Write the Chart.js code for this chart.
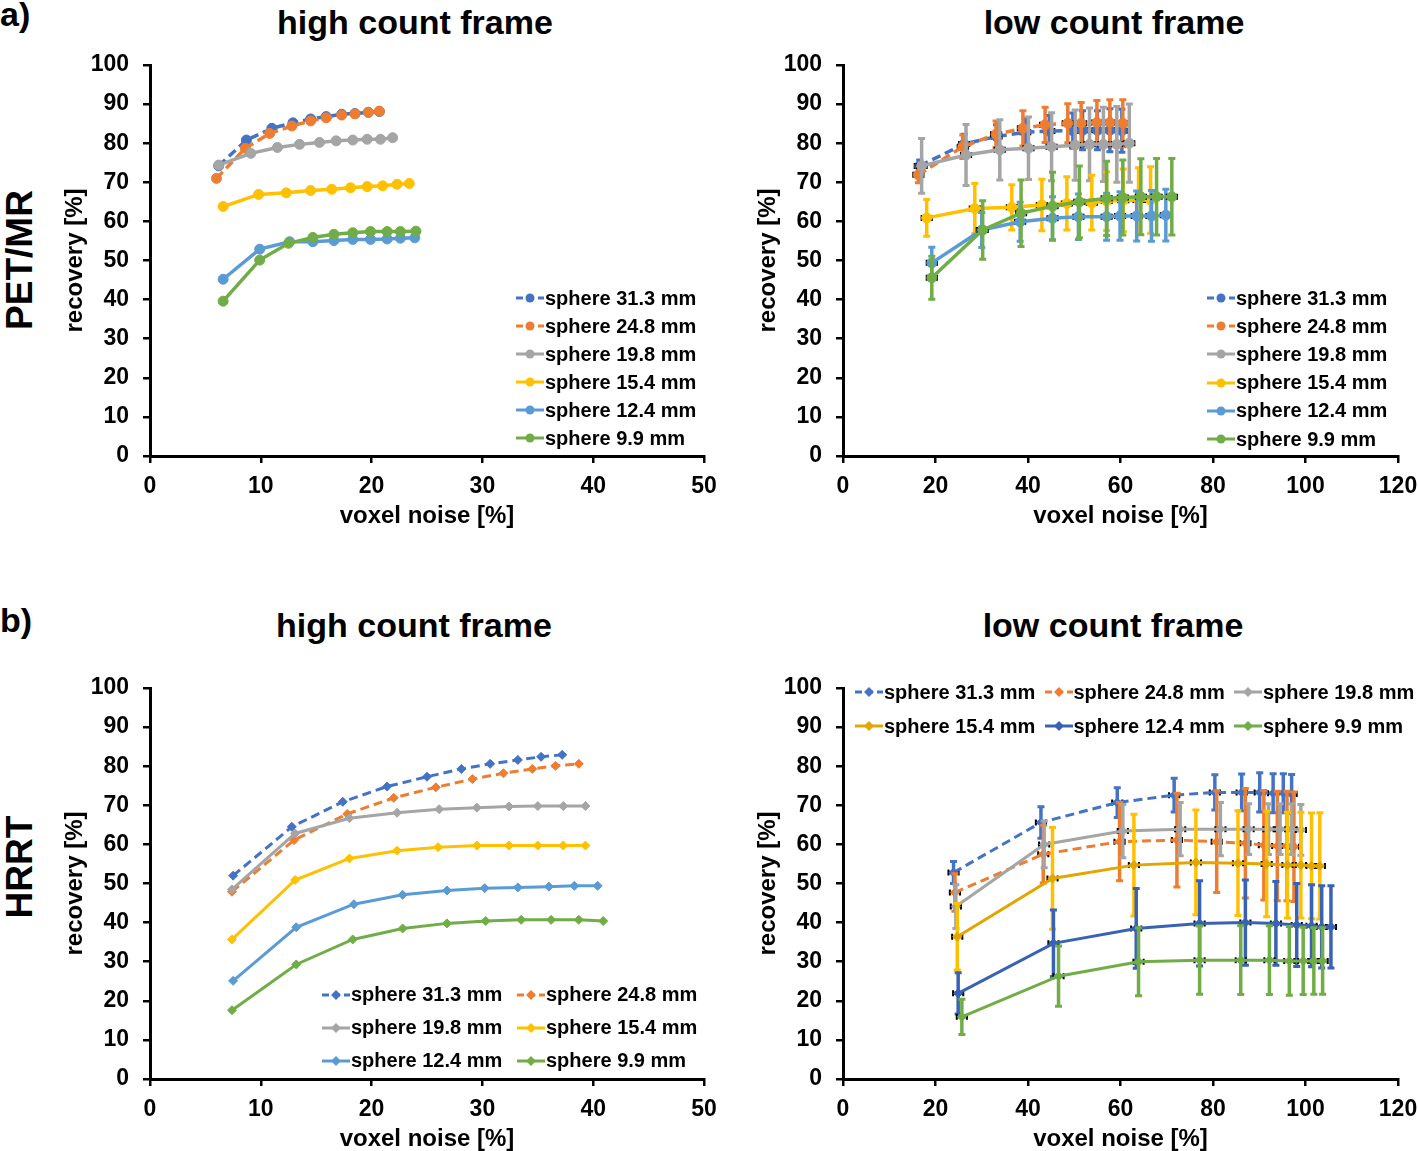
<!DOCTYPE html>
<html>
<head>
<meta charset="utf-8">
<script src="https://cdn.jsdelivr.net/npm/chart.js@4.4.1/dist/chart.umd.min.js"></script>
<style>
  body { margin: 0; background: #fff; width: 1418px; height: 1151px; position: relative; overflow: hidden;
         font-family: "Liberation Sans", Arial, sans-serif; font-weight: bold; color: #000; }
  .box { position: absolute; }
  .title { position: absolute; font-size: 34px; white-space: nowrap; transform: translate(-50%, -50%); }
  .side { position: absolute; font-size: 37px; white-space: nowrap; transform: translate(-50%, -50%) rotate(-90deg); }
  .tag { position: absolute; font-size: 34px; line-height: 1; }
  .legend { position: absolute; font-size: 20px; }
  .legend .item { position: absolute; display: flex; align-items: center; white-space: nowrap; }
  .legend svg { margin-right: 1px; }
</style>
</head>
<body>
<div class="tag" style="left:0;top:-3px">a)</div>
<div class="tag" style="left:0;top:603px">b)</div>
<div class="side" style="left:20px;top:260px">PET/MR</div>
<div class="side" style="left:20px;top:867px">HRRT</div>

<div class="title" style="left:415px;top:22px">high count frame</div>
<div class="title" style="left:1114px;top:22px">low count frame</div>
<div class="title" style="left:414px;top:625px">high count frame</div>
<div class="title" style="left:1113px;top:625px">low count frame</div>

<div class="box" style="left:61px;top:40px;width:663px;height:491px"><canvas id="aHigh"></canvas></div>
<div class="box" style="left:754px;top:40px;width:664px;height:491px"><canvas id="aLow"></canvas></div>
<div class="box" style="left:61px;top:663px;width:663px;height:491px"><canvas id="bHigh"></canvas></div>
<div class="box" style="left:754px;top:663px;width:664px;height:491px"><canvas id="bLow"></canvas></div>

<div class="legend" id="legAHigh" style="left:516px;top:284px"></div>
<div class="legend" id="legALow" style="left:1207px;top:284px"></div>
<div class="legend" id="legBHigh" style="left:322px;top:978px"></div>
<div class="legend" id="legBLow" style="left:855px;top:675px"></div>

<script>
const sphereLabels = ['sphere 31.3 mm', 'sphere 24.8 mm', 'sphere 19.8 mm', 'sphere 15.4 mm', 'sphere 12.4 mm', 'sphere 9.9 mm'];

// a) PET/MR, high count frame
const aHighNoise = [
  [6.2, 8.7, 11.0, 12.9, 14.5, 15.9, 17.3, 18.5, 19.7, 20.7],
  [6.0, 8.6, 10.8, 12.8, 14.5, 15.9, 17.3, 18.5, 19.7, 20.7],
  [6.2, 9.1, 11.5, 13.5, 15.3, 16.8, 18.3, 19.6, 20.8, 21.9],
  [6.6, 9.8, 12.3, 14.5, 16.4, 18.1, 19.6, 21.0, 22.3, 23.4],
  [6.6, 9.9, 12.6, 14.7, 16.6, 18.3, 19.9, 21.4, 22.6, 23.9],
  [6.6, 9.9, 12.5, 14.7, 16.6, 18.3, 19.9, 21.4, 22.6, 24.0]
];
const aHighRecovery = [
  [74.2, 80.8, 83.8, 85.2, 86.2, 86.8, 87.4, 87.6, 87.9, 88.1],
  [71.0, 78.7, 82.5, 84.4, 85.7, 86.5, 87.2, 87.5, 87.9, 88.2],
  [74.4, 77.4, 78.9, 79.7, 80.2, 80.6, 80.8, 81.0, 81.0, 81.4],
  [63.8, 66.9, 67.3, 67.9, 68.2, 68.6, 68.9, 69.1, 69.5, 69.7],
  [45.2, 52.9, 54.8, 54.8, 55.1, 55.4, 55.4, 55.5, 55.7, 55.8],
  [39.6, 50.1, 54.4, 55.9, 56.7, 57.1, 57.4, 57.4, 57.4, 57.5]
];

// a) PET/MR, low count frame
const aLowNoise = [
  [16.6, 26.2, 33.2, 39.4, 44.6, 49.7, 51.8, 55.0, 57.7, 60.3],
  [16.3, 25.9, 33.1, 38.9, 43.7, 48.6, 51.5, 54.9, 57.7, 60.5],
  [17.0, 26.6, 33.9, 40.1, 45.1, 50.2, 53.3, 56.3, 59.2, 61.9],
  [18.1, 28.5, 36.5, 43.0, 48.4, 53.8, 57.0, 60.6, 63.9, 66.5],
  [19.2, 30.0, 38.3, 45.3, 50.9, 57.0, 59.9, 63.5, 66.7, 69.8],
  [19.2, 30.2, 38.5, 45.3, 51.1, 57.0, 60.5, 64.4, 67.8, 71.1]
];
const aLowRecovery = [
  [74.2, 79.8, 81.7, 82.8, 83.1, 83.2, 83.3, 83.3, 83.3, 83.2],
  [71.9, 79.1, 82.3, 83.8, 84.7, 85.1, 85.1, 85.3, 85.3, 85.1],
  [74.2, 77.0, 78.3, 78.7, 79.1, 79.5, 79.7, 79.7, 79.7, 80.0],
  [60.9, 63.3, 63.6, 64.2, 64.6, 64.8, 65.2, 65.4, 65.5, 65.5],
  [49.4, 57.8, 59.9, 60.8, 61.2, 61.2, 61.4, 61.4, 61.4, 61.6],
  [45.6, 57.8, 62.1, 63.9, 65.0, 65.9, 66.1, 66.3, 66.3, 66.3]
];
const aLowError = [
  [1.5, 2.5, 3.0, 3.5, 4.0, 4.5, 5.0, 5.0, 5.5, 5.5],
  [2.0, 3.0, 3.4, 4.5, 4.5, 5.0, 5.3, 5.6, 5.8, 6.0],
  [7.0, 7.8, 7.7, 8.0, 8.7, 9.0, 9.3, 9.5, 9.7, 10.0],
  [4.7, 6.4, 5.8, 6.6, 6.8, 7.0, 7.5, 8.0, 8.2, 8.5],
  [4.0, 4.5, 5.0, 5.5, 5.8, 6.0, 6.2, 6.4, 6.5, 6.6],
  [5.5, 7.5, 8.5, 8.7, 9.2, 9.5, 9.6, 9.7, 9.8, 9.8]
];

// b) HRRT, high count frame
const bHighNoise = [
  [7.5, 12.8, 17.4, 21.4, 25.0, 28.1, 30.7, 33.2, 35.3, 37.2],
  [7.4, 13.0, 17.8, 22.0, 25.8, 29.1, 31.9, 34.5, 36.6, 38.7],
  [7.4, 13.1, 18.0, 22.3, 26.1, 29.5, 32.4, 35.0, 37.3, 39.3],
  [7.4, 13.1, 18.0, 22.3, 26.0, 29.5, 32.4, 35.0, 37.3, 39.3],
  [7.5, 13.2, 18.4, 22.8, 26.8, 30.2, 33.2, 36.0, 38.3, 40.4],
  [7.4, 13.2, 18.3, 22.8, 26.8, 30.3, 33.5, 36.2, 38.7, 40.9]
];
const bHighRecovery = [
  [52.0, 64.5, 70.9, 74.8, 77.3, 79.3, 80.6, 81.6, 82.4, 82.9],
  [47.9, 61.1, 67.8, 71.9, 74.6, 76.7, 78.2, 79.3, 80.1, 80.6],
  [48.5, 62.8, 66.7, 68.1, 69.0, 69.4, 69.7, 69.8, 69.8, 69.8],
  [35.7, 50.9, 56.4, 58.4, 59.3, 59.7, 59.7, 59.7, 59.7, 59.7],
  [25.1, 38.8, 44.7, 47.1, 48.2, 48.8, 49.0, 49.2, 49.4, 49.4],
  [17.6, 29.3, 35.7, 38.5, 39.8, 40.4, 40.7, 40.7, 40.7, 40.4]
];

// b) HRRT, low count frame
const bLowNoise = [
  [23.9, 42.8, 59.3, 71.6, 80.4, 86.2, 90.1, 93.0, 95.2, 97.0],
  [24.2, 43.3, 59.8, 72.2, 80.8, 87.0, 91.0, 93.9, 96.0, 97.5],
  [24.4, 43.5, 60.5, 72.9, 81.6, 87.7, 92.0, 94.5, 97.0, 99.0],
  [24.7, 45.3, 62.9, 76.3, 85.4, 91.6, 96.1, 99.0, 101.3, 103.1],
  [24.9, 45.5, 63.4, 77.1, 87.0, 93.6, 98.1, 101.3, 103.5, 105.5],
  [25.7, 46.6, 63.9, 77.1, 86.0, 92.2, 96.5, 99.5, 101.8, 103.7]
];
const bLowRecovery = [
  [52.8, 65.6, 70.7, 72.6, 73.3, 73.3, 73.3, 73.1, 73.1, 72.9],
  [47.7, 57.5, 60.7, 61.1, 60.7, 60.3, 59.8, 59.6, 59.6, 59.4],
  [44.1, 60.0, 63.4, 63.9, 63.9, 63.9, 63.9, 63.9, 63.9, 63.7],
  [36.4, 51.3, 54.7, 55.4, 55.2, 55.0, 54.7, 54.7, 54.5, 54.5],
  [21.9, 34.7, 38.5, 39.8, 40.0, 39.8, 39.4, 39.2, 38.9, 38.9],
  [15.9, 26.3, 30.0, 30.4, 30.4, 30.4, 30.2, 30.2, 30.2, 30.2]
];
const bLowError = [
  [2.8, 4.0, 3.8, 4.3, 4.5, 4.7, 5.0, 5.0, 5.0, 5.0],
  [4.8, 7.4, 10.0, 12.0, 13.0, 14.0, 14.0, 14.0, 14.0, 14.0],
  [5.6, 6.0, 6.8, 6.8, 6.8, 6.5, 6.5, 6.5, 6.5, 6.5],
  [8.5, 13.0, 13.0, 13.4, 13.4, 13.5, 13.5, 13.5, 13.5, 13.6],
  [5.3, 8.5, 10.2, 10.9, 10.9, 10.7, 10.6, 10.5, 10.5, 10.5],
  [4.5, 7.7, 8.7, 8.7, 8.8, 8.8, 8.8, 8.6, 8.5, 8.5]
];
const noiseError = 1.1;

const colorsA = ['#4472C4', '#ED7D31', '#A5A5A5', '#FFC000', '#5B9BD5', '#70AD47'];
const colorsB = ['#4472C4', '#ED7D31', '#A5A5A5', '#E3A600', '#3A62B4', '#70AD47'];
const barsB = ['#4472C4', '#ED7D31', '#A5A5A5', '#FFC000', '#3A62B4', '#70AD47'];
const FONT = '"Liberation Sans", Arial, sans-serif';

// error bars drawn under each series, from the library's scales
const errorBars = {
  id: 'errorBars',
  beforeDatasetDraw(chart, args) {
    const ds = chart.data.datasets[args.index];
    if (!ds.errY) return;
    const xs = chart.scales.x, ys = chart.scales.y, ctx = chart.ctx;
    ctx.save();
    ds.data.forEach((p, i) => {
      const px = xs.getPixelForValue(p.x), py = ys.getPixelForValue(p.y);
      const top = ys.getPixelForValue(p.y + ds.errY[i]);
      const bot = ys.getPixelForValue(p.y - ds.errY[i]);
      const left = xs.getPixelForValue(p.x - ds.errX), right = xs.getPixelForValue(p.x + ds.errX);
      ctx.strokeStyle = ds.barColor;
      ctx.lineWidth = 3.5;
      ctx.beginPath();
      ctx.moveTo(px, top); ctx.lineTo(px, bot);
      ctx.moveTo(left, py); ctx.lineTo(right, py);
      ctx.stroke();
      ctx.lineWidth = 3;
      ctx.beginPath();
      ctx.moveTo(px - 3.5, top); ctx.lineTo(px + 3.5, top);
      ctx.moveTo(px - 3.5, bot); ctx.lineTo(px + 3.5, bot);
      ctx.stroke();
      ctx.strokeStyle = '#000';
      ctx.lineWidth = 2;
      ctx.beginPath();
      ctx.moveTo(left, py - 3); ctx.lineTo(left, py + 3);
      ctx.moveTo(right, py - 3); ctx.lineTo(right, py + 3);
      ctx.stroke();
    });
    ctx.restore();
  }
};

function buildSets(noise, rec, err, colors, barColors, marker, radius, lw) {
  return sphereLabels.map((lab, s) => ({
    label: lab,
    data: noise[s].map((x, i) => ({ x: x, y: rec[s][i] })),
    errY: err ? err[s] : null,
    errX: noiseError,
    barColor: barColors[s],
    borderColor: colors[s],
    backgroundColor: colors[s],
    borderWidth: lw,
    borderDash: s < 2 ? [9, 5] : [],
    pointStyle: marker,
    pointRadius: radius,
    pointBorderWidth: 1,
    showLine: true,
    order: 6 - s
  }));
}

function scaleOpts(xMax, xStep) {
  const tickFont = { family: FONT, size: 23, weight: 'bold' };
  const titleFont = { family: FONT, size: 24, weight: 'bold' };
  const grid = { drawOnChartArea: false, tickLength: 7, color: '#000', lineWidth: 2.5 };
  const border = { color: '#000', width: 3 };
  return {
    x: {
      type: 'linear', min: 0, max: xMax,
      ticks: { stepSize: xStep, color: '#000', font: tickFont, padding: 10 },
      grid: grid, border: border,
      title: { display: true, text: 'voxel noise [%]', color: '#000', font: titleFont, padding: 0 },
      afterFit: (s) => { s.height = 75; s.paddingLeft = 0; s.paddingRight = 0; }
    },
    y: {
      type: 'linear', min: 0, max: 100,
      ticks: { stepSize: 10, color: '#000', font: tickFont, padding: 14 },
      grid: grid, border: border,
      title: { display: true, text: 'recovery [%]', color: '#000', font: titleFont, padding: 0 },
      afterFit: (s) => { s.width = 89; s.paddingTop = 0; s.paddingBottom = 0; }
    }
  };
}

function makeChart(id, datasets, xMax, xStep) {
  return new Chart(document.getElementById(id), {
    type: 'scatter',
    data: { datasets: datasets },
    options: {
      responsive: true, maintainAspectRatio: false, animation: false,
      layout: { padding: { top: 25, right: 20, left: 0, bottom: 0 } },
      plugins: { legend: { display: false }, tooltip: { enabled: false } },
      scales: scaleOpts(xMax, xStep)
    },
    plugins: [errorBars]
  });
}

function makeLegend(boxId, chart, cols, colW, rowH) {
  const box = document.getElementById(boxId);
  chart.data.datasets.forEach((ds, s) => {
    const c = ds.borderColor;
    const item = document.createElement('div');
    item.className = 'item';
    item.style.left = (s % cols) * colW + 'px';
    item.style.top = Math.floor(s / cols) * rowH + 'px';
    item.style.height = rowH + 'px';
    const dash = s < 2 ? ' stroke-dasharray="7 4"' : '';
    const mk = ds.pointStyle === 'circle'
      ? '<circle cx="14" cy="7" r="4.5" fill="' + c + '"/>'
      : '<rect x="10.5" y="3.5" width="7" height="7" fill="' + c + '" transform="rotate(45 14 7)"/>';
    item.innerHTML = '<svg width="28" height="14"><line x1="0" y1="7" x2="28" y2="7" stroke="' + c +
      '" stroke-width="3"' + dash + '/>' + mk + '</svg><span>' + ds.label + '</span>';
    box.appendChild(item);
  });
}

const aHigh = makeChart('aHigh', buildSets(aHighNoise, aHighRecovery, null, colorsA, colorsA, 'circle', 5, 3.5), 50, 10);
const aLow = makeChart('aLow', buildSets(aLowNoise, aLowRecovery, aLowError, colorsA, colorsA, 'circle', 5, 3.5), 120, 20);
const bHigh = makeChart('bHigh', buildSets(bHighNoise, bHighRecovery, null, colorsA, colorsA, 'rectRot', 4.5, 3), 50, 10);
const bLow = makeChart('bLow', buildSets(bLowNoise, bLowRecovery, bLowError, colorsB, barsB, 'rectRot', 4.5, 3), 120, 20);

makeLegend('legAHigh', aHigh, 1, 0, 28);
makeLegend('legALow', aLow, 1, 0, 28.2);
makeLegend('legBHigh', bHigh, 2, 195, 33);
makeLegend('legBLow', bLow, 3, 189.5, 34);
</script>
</body>
</html>
